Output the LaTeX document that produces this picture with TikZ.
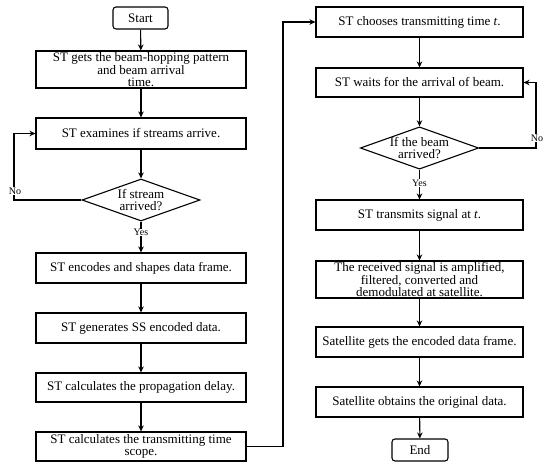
\documentclass[tikz,border=0pt]{standalone}
\usepackage{fontspec}
\setmainfont{Liberation Serif}
\usetikzlibrary{shapes.geometric,arrows.meta}
\begin{document}
\begin{tikzpicture}[x=1pt,y=-1pt,
  every node/.style={font=\fontsize{13}{11.8}\selectfont},
  box/.style={draw,line width=1.1pt,minimum width=210pt,inner sep=1pt,align=center},
  rbox/.style={box,minimum width=207pt},
  term/.style={draw,line width=1.1pt,rounded corners=3pt,minimum width=55pt,minimum height=22pt,inner sep=1pt},
  dec/.style={draw,line width=1.1pt,diamond,aspect=2.8,inner sep=0pt,align=center},
  lab/.style={fill=white,inner sep=0.5pt,font=\fontsize{10}{10}\selectfont},
  arr/.style={line width=1.1pt,-{Stealth[length=6pt,width=5.5pt]}}]
\useasboundingbox (0,0) rectangle (550,469);
% left column
\node[term] (start) at (140.5,18) {Start};
\node[box,minimum height=37pt] (b2) at (141,69.5) {ST gets the beam-hopping pattern\\and beam arrival\\time.};
\node[box,minimum height=31pt] (b3) at (141,133.5) {ST examines if streams arrive.};
\node[dec,minimum width=118pt,minimum height=42pt] (d1) at (141,200) {If stream\\arrived?};
\node[box,minimum height=30pt] (b4) at (141,268) {ST encodes and shapes data frame.};
\node[box,minimum height=30pt] (b5) at (141,328) {ST generates SS encoded data.};
\node[box,minimum height=29pt] (b6) at (141,387.5) {ST calculates the propagation delay.};
\node[box,minimum height=29pt] (b7) at (141,446.5) {ST calculates the transmitting time\\scope.};
% right column
\node[rbox,minimum height=30pt] (b8) at (419.5,22) {ST chooses transmitting time \textit{t}.};
\node[rbox,minimum height=29pt] (b9) at (419.5,82.5) {ST waits for the arrival of beam.};
\node[dec,minimum width=117pt,minimum height=42pt] (d2) at (419.5,148) {If the beam\\arrived?};
\node[rbox,minimum height=30pt] (b10) at (419.5,215) {ST transmits signal at \textit{t}.};
\node[rbox,minimum height=37pt] (b11) at (419.5,279.5) {The received signal is amplified,\\filtered, converted and\\demodulated at satellite.};
\node[rbox,minimum height=30pt] (b12) at (419.5,342) {Satellite gets the encoded data frame.};
\node[rbox,minimum height=30pt] (b13) at (419.5,402) {Satellite obtains the original data.};
\node[term,minimum width=56pt] (end) at (420,450) {End};
% helper coordinates
\coordinate (l1) at (14,200);
\coordinate (l2) at (283,446.5);
\coordinate (l3) at (536,148);
% connectors left
\draw[arr] (start) -- (b2);
\draw[arr] (b2) -- (b3);
\draw[arr] (b3) -- (d1);
\draw[arr] (d1) -- node[lab,pos=0.35] {Yes} (b4);
\draw[arr] (b4) -- (b5);
\draw[arr] (b5) -- (b6);
\draw[arr] (b6) -- (b7);
\draw[arr] (d1.west) -- (l1) |- (b3.west);
\node[lab] (no1) at (15,191) {No};
\draw[arr] (b7.east) -- (l2) |- (b8.west);
% connectors right
\draw[arr] (b8) -- (b9);
\draw[arr] (b9) -- (d2);
\draw[arr] (d2) -- node[lab,pos=0.45] {Yes} (b10);
\draw[arr] (b10) -- (b11);
\draw[arr] (b11) -- (b12);
\draw[arr] (b12) -- (b13);
\draw[arr] (b13) -- (end);
\draw[arr] (d2.east) -- (l3) |- (b9.east);
\node[lab] (no2) at (537,138) {No};
\end{tikzpicture}
\end{document}
